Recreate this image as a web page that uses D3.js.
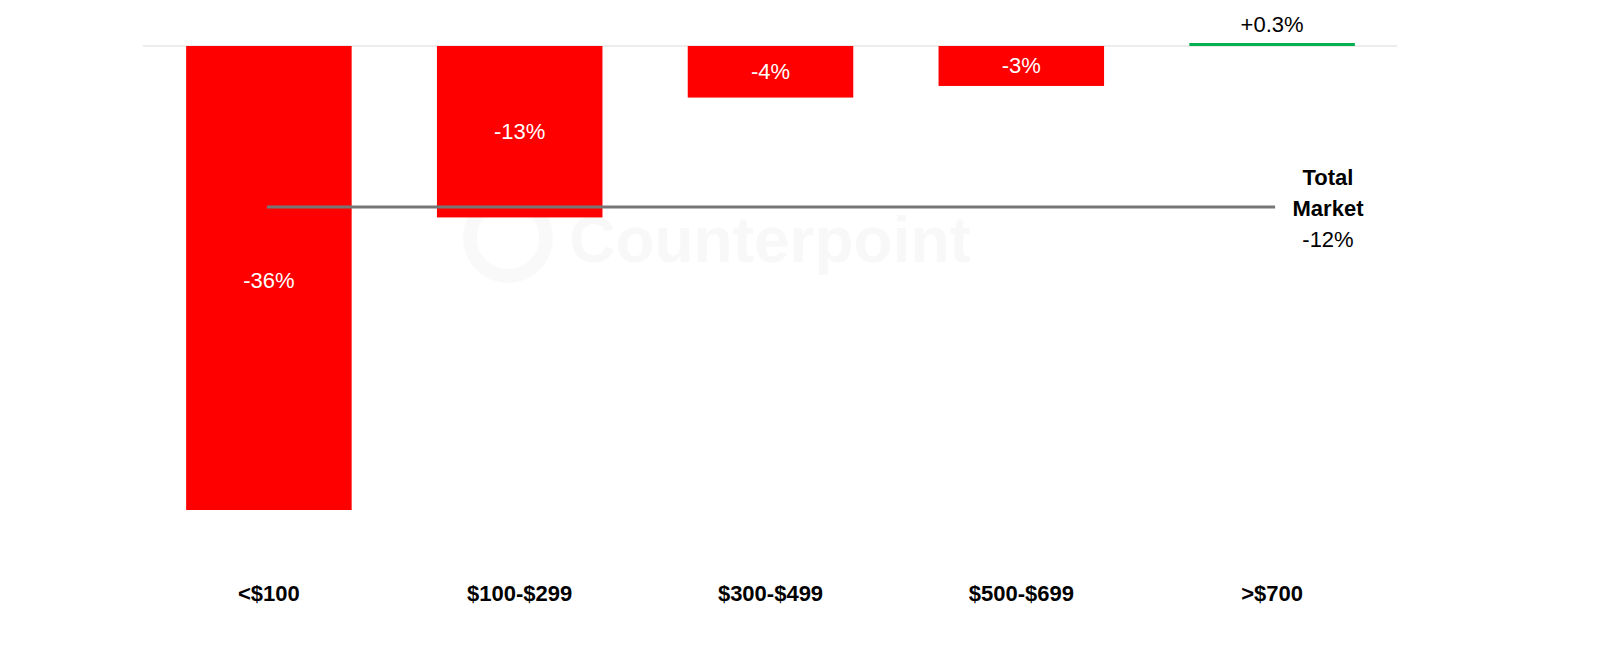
<!DOCTYPE html>
<html><head><meta charset="utf-8">
<script src="https://cdn.jsdelivr.net/npm/d3@7"></script>
<style>body{margin:0;background:#fff}svg{font-family:"Liberation Sans",Arial,sans-serif}</style>
</head><body><svg id="c" width="1600" height="646"></svg>
<script>
const categories = ["<$100","$100-$299","$300-$499","$500-$699",">$700"];
const values = [-36, -13.3, -4, -3.1, 0.3];
const valueLabels = ["-36%","-13%","-4%","-3%","+0.3%"];
const totalValue = -12.5;
const totalLabel = ["Total","Market","-12%"];

const svg = d3.select("#c");
const x = d3.scaleBand().domain(categories).range([143.5,1397.5]).paddingInner(0.34).paddingOuter(0.17);
const y = d3.scaleLinear().domain([0,-36]).range([46,510]);

svg.append("text").attr("x",770).attr("y",262).attr("text-anchor","middle")
  .attr("font-size",64).attr("font-weight","bold").attr("fill","#000").attr("opacity",0.025).text("Counterpoint");
svg.append("circle").attr("cx",508).attr("cy",238).attr("r",38).attr("fill","none").attr("stroke","#000").attr("stroke-width",14).attr("opacity",0.025);

svg.append("line").attr("x1",143).attr("x2",1397).attr("y1",y(0)).attr("y2",y(0)).attr("stroke","#d9d9d9").attr("stroke-width",1);

svg.selectAll("rect.bar").data(values).join("rect").attr("class","bar")
  .attr("x",(d,i)=>x(categories[i])).attr("width",x.bandwidth())
  .attr("y",d=>d<0?y(0):y(0)-3).attr("height",d=>d<0?y(d)-y(0):3)
  .attr("fill",d=>d<0?"#ff0000":"#00b050");

svg.selectAll("text.vl").data(values).join("text").attr("class","vl")
  .attr("x",(d,i)=>x(categories[i])+x.bandwidth()/2)
  .attr("y",(d,i)=>d<0?(i===0?y(d*0.5)+10:y(0)+(y(d)-y(0))/2+7):y(0)-14)
  .attr("text-anchor","middle").attr("font-size",22)
  .attr("fill",d=>d<0?"#fff":"#000").text((d,i)=>valueLabels[i]);

svg.append("line").attr("x1",x(categories[0])+x.bandwidth()/2-2).attr("x2",x(categories[4])+x.bandwidth()/2+3)
  .attr("y1",y(totalValue)).attr("y2",y(totalValue)).attr("stroke","#767676").attr("stroke-width",3);

svg.selectAll("text.tl").data(totalLabel).join("text").attr("class","tl")
  .attr("x",1328).attr("y",(d,i)=>185+i*31).attr("text-anchor","middle").attr("font-size",22)
  .attr("font-weight",(d,i)=>i<2?"bold":"normal").text(d=>d);

svg.selectAll("text.cat").data(categories).join("text").attr("class","cat")
  .attr("x",d=>x(d)+x.bandwidth()/2).attr("y",601).attr("text-anchor","middle")
  .attr("font-size",22).attr("font-weight","bold").text(d=>d);
</script></body></html>
